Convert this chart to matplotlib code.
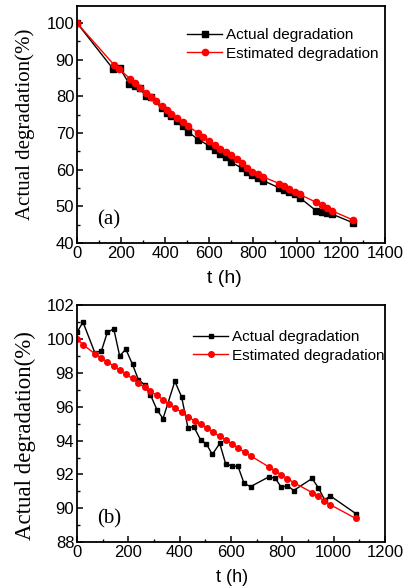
import matplotlib
matplotlib.use("Agg")
import matplotlib.pyplot as plt
from matplotlib.ticker import MultipleLocator

# ---- panel (a) ----
t_a_act = [0, 164, 194, 237, 262, 285, 313, 338, 384, 407, 429, 455, 482, 505, 551,
           601, 625, 649, 675, 698, 748, 771, 796, 824, 846, 919, 942, 965, 990, 1013,
           1086, 1112, 1135, 1157, 1256]
y_a_act = [100, 87.45, 87.7, 83.45, 82.7, 82.3, 80.0, 79.8, 76.8, 75.45, 74.5, 73.2, 71.8,
           70.3, 68.2, 66.5, 65.4, 64.35, 63.5, 62.1, 60.45, 59.4, 58.4, 57.7, 57.0, 55.0,
           54.5, 53.8, 53.2, 52.3, 48.8, 48.45, 48.2, 47.9, 45.45]
t_a_est = [0, 168, 191, 240, 262, 285, 313, 338, 361, 384, 407, 429, 455, 482, 505, 551,
           573, 601, 625, 649, 675, 698, 725, 748, 771, 796, 824, 846, 919, 942, 965, 990,
           1013, 1086, 1112, 1135, 1157, 1256]
y_a_est = [100, 88.6, 87.6, 84.8, 83.6, 82.4, 80.9, 79.8, 78.6, 77.45, 76.35, 75.2, 74.1,
           72.9, 71.8, 70.0, 68.9, 67.7, 66.6, 65.7, 64.8, 63.9, 63.0, 61.8, 60.3, 59.4,
           58.7, 58.0, 56.2, 55.4, 54.7, 53.8, 53.2, 51.1, 50.3, 49.55, 48.8, 46.2]

# ---- panel (b) ----
t_b_act = [0, 23, 69, 95, 118, 143, 166, 190, 216, 239, 263, 286, 312, 335, 381, 407,
           432, 455, 481, 504, 527, 556, 579, 603, 627, 651, 676, 748, 773, 796, 820,
           844, 916, 940, 965, 987, 1086]
y_b_act = [100.4, 101.0, 99.2, 99.3, 100.4, 100.6, 99.0, 99.4, 98.5, 97.6, 97.3, 96.7,
           95.8, 95.3, 97.5, 96.6, 94.77, 94.82, 94.05, 93.8, 93.18, 93.83, 92.63, 92.5,
           92.48, 91.47, 91.28, 91.86, 91.76, 91.24, 91.34, 91.05, 91.76, 91.22, 90.5,
           90.73, 89.69]
t_b_est = [0, 23, 69, 95, 118, 143, 166, 190, 216, 239, 263, 286, 312, 335, 358, 381,
           407, 432, 459, 482, 507, 530, 556, 582, 605, 629, 653, 676, 748, 773, 796,
           820, 844, 916, 939, 962, 987, 1086]
y_b_est = [100, 99.67, 99.13, 98.88, 98.64, 98.41, 98.16, 97.91, 97.67, 97.38, 97.15,
           96.9, 96.67, 96.41, 96.15, 95.92, 95.68, 95.41, 95.16, 94.96, 94.73, 94.48,
           94.25, 94.03, 93.8, 93.56, 93.31, 93.1, 92.44, 92.21, 91.98, 91.75, 91.52,
           90.93, 90.7, 90.45, 90.21, 89.4]

SANS = "Liberation Sans"
SERIF = "Liberation Serif"
plt.rcParams["font.family"] = SANS

fig = plt.figure(figsize=(4.1, 5.88), dpi=100)
ax_a = fig.add_axes([0.188, 0.587, 0.751, 0.403])
ax_b = fig.add_axes([0.188, 0.078, 0.751, 0.403])


def style_axes(ax, xlim, ylim, xmaj, xmin, ymaj, ymin, xl_size, yl_size, xl_pos, yl_pos):
    ax.set_xlim(*xlim)
    ax.set_ylim(*ylim)
    ax.xaxis.set_major_locator(MultipleLocator(xmaj))
    ax.xaxis.set_minor_locator(MultipleLocator(xmin))
    ax.yaxis.set_major_locator(MultipleLocator(ymaj))
    ax.yaxis.set_minor_locator(MultipleLocator(ymin))
    ax.tick_params(which="both", direction="in", top=False, right=False, labelsize=12)
    ax.tick_params(which="major", length=4, width=1.1, pad=2)
    ax.tick_params(which="minor", length=2.5, width=1.0)
    for sp in ax.spines.values():
        sp.set_linewidth(1.3)
    ax.set_xlabel("t (h)", fontsize=xl_size)
    ax.xaxis.set_label_coords(*xl_pos)
    ax.set_ylabel("Actual degradation(%)", family=SERIF, fontsize=yl_size)
    ax.yaxis.set_label_coords(*yl_pos)


# panel (a)
ax_a.plot(t_a_act, y_a_act, "-s", color="black", lw=1.0, ms=4, label="Actual degradation")
ax_a.plot(t_a_est, y_a_est, "-o", color="red", lw=1.0, ms=4.5, label="Estimated degradation")
style_axes(ax_a, (0, 1400), (40, 104.7), 200, 100, 10, 5,
           14, 15, (0.477, -0.115), (-0.138, 0.50))
ax_a.legend(loc="upper left", bbox_to_anchor=(0.357, 0.906), frameon=False, fontsize=11,
            borderpad=0, borderaxespad=0, handlelength=2.3, handletextpad=0.25,
            labelspacing=0.3)
ax_a.text(0.065, 0.097, "(a)", transform=ax_a.transAxes, family=SERIF, fontsize=15,
          va="center", ha="left")

# panel (b)
ax_b.plot(t_b_act, y_b_act, "-s", color="black", lw=1.0, ms=3.5, label="Actual degradation")
ax_b.plot(t_b_est, y_b_est, "-o", color="red", lw=1.0, ms=4, label="Estimated degradation")
style_axes(ax_b, (0, 1200), (88, 102), 200, 100, 2, 1,
           13, 16.5, (0.503, -0.112), (-0.135, 0.45))
ax_b.legend(loc="upper left", bbox_to_anchor=(0.377, 0.895), frameon=False, fontsize=11,
            borderpad=0, borderaxespad=0, handlelength=2.3, handletextpad=0.25,
            labelspacing=0.3)
ax_b.text(0.065, 0.10, "(b)", transform=ax_b.transAxes, family=SERIF, fontsize=15,
          va="center", ha="left")

fig.savefig("out.png", dpi=100)
